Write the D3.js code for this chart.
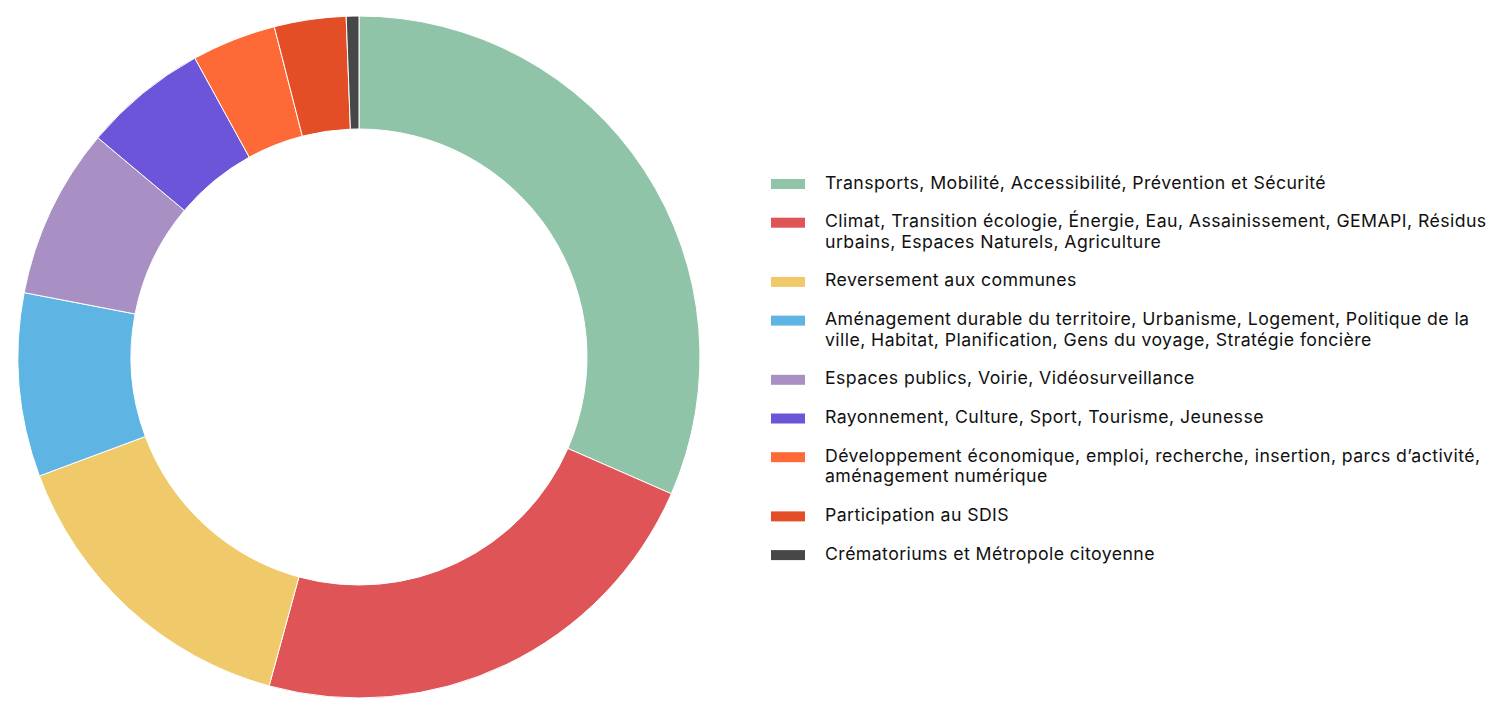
<!DOCTYPE html>
<html>
<head>
<meta charset="utf-8">
<script src="https://cdn.jsdelivr.net/npm/d3@7"></script>
<style>
  body { margin: 0; background: #fff; }
  text { font-family: Inter, "Noto Sans", sans-serif; fill: #111; }
</style>
</head>
<body>
<div id="container"></div>
<script>
// categories (legend lines split as in the original)
const categories = [
    ["Transports, Mobilité, Accessibilité, Prévention et Sécurité"],
    ["Climat, Transition écologie, Énergie, Eau, Assainissement, GEMAPI, Résidus", "urbains, Espaces Naturels, Agriculture"],
    ["Reversement aux communes"],
    ["Aménagement durable du territoire, Urbanisme, Logement, Politique de la", "ville, Habitat, Planification, Gens du voyage, Stratégie foncière"],
    ["Espaces publics, Voirie, Vidéosurveillance"],
    ["Rayonnement, Culture, Sport, Tourisme, Jeunesse"],
    ["Développement économique, emploi, recherche, insertion, parcs d’activité,", "aménagement numérique"],
    ["Participation au SDIS"],
    ["Crématoriums et Métropole citoyenne"]
]

// share of budget (%)
const values = [31.6, 22.7, 15.1, 8.7, 8.1, 5.9, 4.0, 3.4, 0.6]

const colors = ["#8fc4a8", "#de5457", "#f0ca6a", "#5eb5e3", "#a990c4", "#6d55d9", "#fd6a38", "#e34e27", "#474747"]

//svg size
const w = 1491
const h = 707

const cx = 359
const cy = 357
const outerRadius = 341
const innerRadius = 228

const svg = d3.select('#container')
    .append('svg')
    .attr('width', w)
    .attr('height', h)

const pie = d3.pie().sort(null)
const arc = d3.arc()
    .innerRadius(innerRadius)
    .outerRadius(outerRadius)

const color = d3.scaleOrdinal().domain(d3.range(values.length)).range(colors)

svg.append('g')
    .attr('transform', 'translate(' + cx + ',' + cy + ')')
    .selectAll('path')
    .data(pie(values))
    .enter()
    .append('path')
    .attr('d', arc)
    .attr('fill', (d, i) => color(i))
    .attr('stroke', '#fff')
    .attr('stroke-width', 1)

//legend
const lineH = 20.5
const gap = 38.7
const legend = svg.append('g').attr('transform', 'translate(771, 181.5)')

let y = 0
categories.forEach(function(lines, i) {
    const item = legend.append('g').attr('transform', 'translate(0,' + y + ')')
    item.append('rect')
        .attr('x', 0)
        .attr('y', -2.5)
        .attr('width', 34)
        .attr('height', 10)
        .attr('fill', color(i))
    item.append('text')
        .attr('x', 54)
        .attr('y', 0)
        .attr('font-size', 17.7)
        .attr('letter-spacing', 0.42)
        .attr('dominant-baseline', 'central')
        .selectAll('tspan')
        .data(lines)
        .enter()
        .append('tspan')
        .attr('x', 54)
        .attr('dy', (d, j) => j === 0 ? 0 : lineH)
        .text(d => d)
    y += (lines.length - 1) * lineH + gap
})
</script>
</body>
</html>
